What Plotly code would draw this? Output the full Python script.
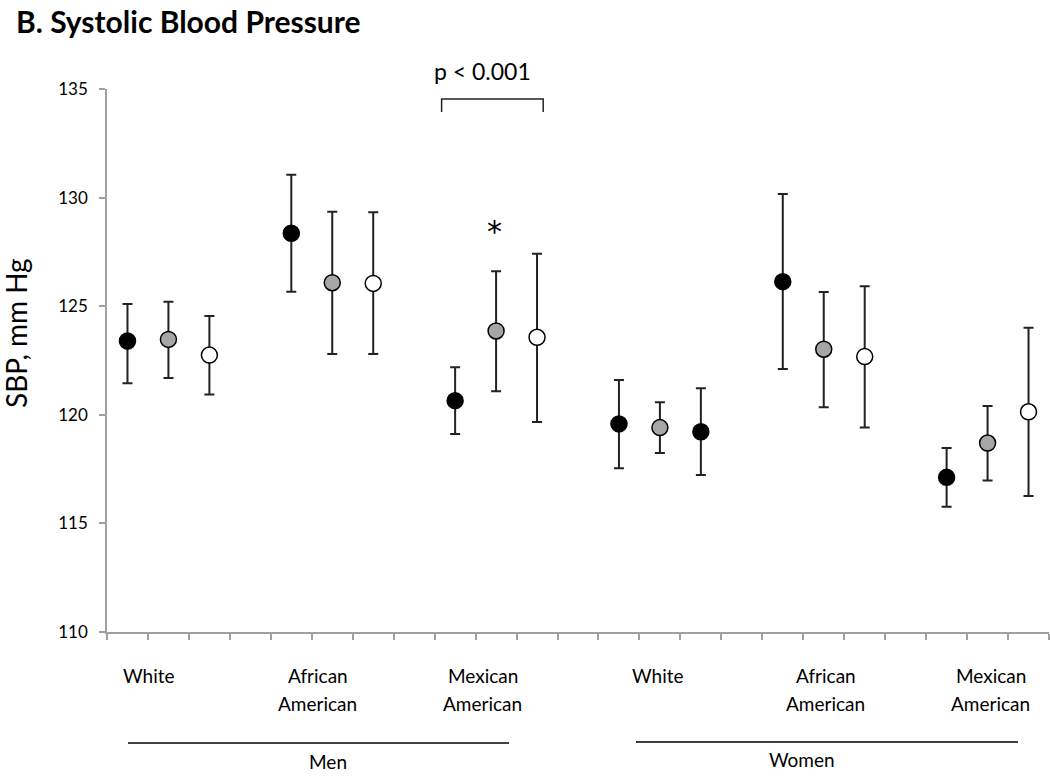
import plotly.graph_objects as go

# ---- data ----
groups = ["Men White", "Men African American", "Men Mexican American",
          "Women White", "Women African American", "Women Mexican American"]

black_vals = [123.40, 128.36, 120.65, 119.58, 126.13, 117.12]
black_hi = [125.10, 131.05, 122.19, 121.60, 130.17, 118.47]
black_lo = [121.45, 125.67, 119.12, 117.54, 122.11, 115.77]

grey_vals = [123.47, 126.08, 123.86, 119.41, 123.02, 118.70]
grey_hi = [125.21, 129.35, 126.61, 120.58, 125.65, 120.41]
grey_lo = [121.69, 122.80, 121.08, 118.24, 120.35, 116.98]

white_vals = [122.75, 126.05, 123.57, 119.22, 122.68, 120.14]
white_hi = [124.55, 129.32, 127.42, 121.22, 125.92, 124.01]
white_lo = [120.94, 122.80, 119.67, 117.23, 119.42, 116.26]
white_fill = ["white", "white", "white", "black", "white", "white"]

cat_line1 = ["White", "African", "Mexican", "White", "African", "Mexican"]
cat_line2 = ["", "American", "American", "", "American", "American"]
cat_label_x = [1.03, 5.15, 9.18, 13.45, 17.55, 21.58]

y_ticks = [110, 115, 120, 125, 130, 135]

FONT = "Lato"

# positions: 3 points per group, one empty slot between groups
def xpos(k):
    return [g * 4 + k + 0.5 for g in range(len(groups))]

fig = go.Figure()

series = [
    (black_vals, black_hi, black_lo, "black"),
    (grey_vals, grey_hi, grey_lo, "#a6a6a6"),
    (white_vals, white_hi, white_lo, white_fill),
]
for k, (vals, hi, lo, fill) in enumerate(series):
    fig.add_trace(go.Scatter(
        x=xpos(k), y=vals, mode="markers",
        marker=dict(size=16, color=fill, line=dict(color="black", width=1.5)),
        error_y=dict(type="data", symmetric=False,
                     array=[h - v for h, v in zip(hi, vals)],
                     arrayminus=[v - l for v, l in zip(vals, lo)],
                     color="#222222", thickness=2, width=5),
        showlegend=False, hoverinfo="skip",
    ))

PL, PT, PR, PB = 107, 89, 1049, 632  # plot area in page pixels
W, H = 1050, 782
L, T = PL, PT
pw, ph = PR - PL, PB - PT
R = W - L - pw
B = H - T - ph

def py(pix):  # page pixel y -> paper y
    return (PB - pix) / ph

def px(pix):  # page pixel x -> paper x
    return (pix - PL) / pw

annotations = []
# title (anchored by its top edge so it is never clipped)
annotations.append(dict(text="<b>B. Systolic Blood Pressure</b>", xref="paper", yref="paper",
                        x=px(14), y=py(1), xanchor="left", yanchor="top",
                        showarrow=False, font=dict(family=FONT, size=30, color="black")))
# y-axis title
annotations.append(dict(text="SBP, mm Hg", xref="paper", yref="paper",
                        x=px(16), y=py(333), xanchor="center", yanchor="middle",
                        textangle=-90, showarrow=False,
                        font=dict(family=FONT, size=28, color="black")))
# category labels
for x, l1, l2 in zip(cat_label_x, cat_line1, cat_line2):
    annotations.append(dict(text=l1, x=x, xref="x", yref="paper", y=py(675),
                            showarrow=False, xanchor="center", yanchor="middle",
                            font=dict(family=FONT, size=19, color="black")))
    if l2:
        annotations.append(dict(text=l2, x=x, xref="x", yref="paper", y=py(703),
                                showarrow=False, xanchor="center", yanchor="middle",
                                font=dict(family=FONT, size=19, color="black")))
# sex labels
annotations.append(dict(text="Men", xref="paper", x=px(307), yref="paper", y=py(775),
                        showarrow=False, font=dict(family=FONT, size=19, color="black")))
annotations.append(dict(text="Women", xref="paper", x=px(837), yref="paper", y=py(773),
                        showarrow=False, font=dict(family=FONT, size=19, color="black")))
# p-value and asterisk
annotations.append(dict(text="p < 0.001", x=9.18, xref="x", yref="paper", y=py(71),
                        showarrow=False, xanchor="center", yanchor="middle",
                        font=dict(family=FONT, size=23, color="black")))
annotations.append(dict(text="*", x=9.47, xref="x", yref="paper", y=py(231),
                        showarrow=False, xanchor="center", yanchor="middle",
                        font=dict(family="DejaVu Sans", size=30, color="black")))

shapes = [
    dict(type="line", xref="paper", yref="paper", x0=px(128), x1=px(509),
         y0=py(743), y1=py(743), line=dict(color="black", width=1.5)),
    dict(type="line", xref="paper", yref="paper", x0=px(636), x1=px(1018),
         y0=py(742), y1=py(742), line=dict(color="black", width=1.5)),
    dict(type="path", xref="x", yref="y",
         path="M 8.17,133.94 L 8.17,134.54 L 10.65,134.54 L 10.65,133.94",
         line=dict(color="#222222", width=1.5)),
]

fig.update_layout(
    width=W, height=H,
    margin=dict(l=L, r=R, t=T, b=B, pad=0),
    paper_bgcolor="white", plot_bgcolor="white",
    font=dict(family=FONT, color="black"),
    annotations=annotations, shapes=shapes,
    xaxis=dict(range=[0, 23], tickvals=list(range(24)), showticklabels=False,
               ticks="outside", ticklen=6, tickwidth=1.5, tickcolor="#a0a0a0",
               showline=True, linecolor="#a0a0a0", linewidth=1.5,
               showgrid=False, zeroline=False, fixedrange=True),
    yaxis=dict(range=[110, 135], tickvals=y_ticks, ticks="outside", ticklen=6,
               tickwidth=1.5, tickcolor="#a0a0a0", showline=True, linecolor="#a0a0a0",
               linewidth=1.5, showgrid=False, zeroline=False,
               tickfont=dict(family=FONT, size=17, color="black"),
               ticklabelstandoff=8, fixedrange=True),
)

# remove the default 8px page margin so the figure fills the window exactly
fig.write_html("out.html", post_script="document.body.style.margin='0';",
               config={"displayModeBar": False})
